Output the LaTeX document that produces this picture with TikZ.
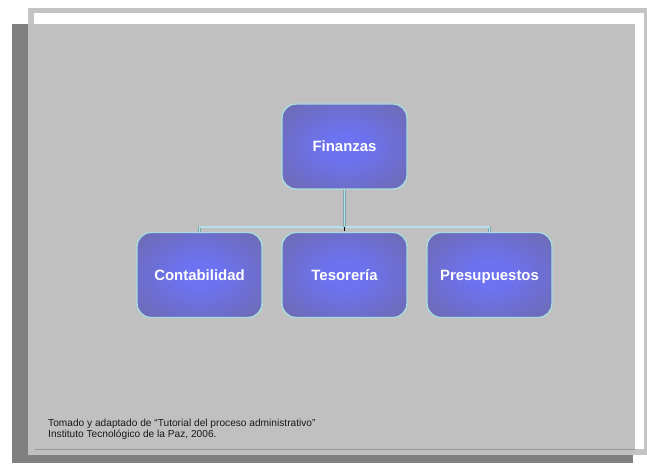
\documentclass[tikz,border=0pt]{standalone}
\usepackage{fontspec}
\setmainfont{Liberation Sans}
\definecolor{shadowgray}{HTML}{808080}
\definecolor{framegray}{HTML}{C3C3C3}
\definecolor{panelgray}{HTML}{C0C0C0}
\definecolor{rulegray}{HTML}{999999}
\definecolor{boxcenter}{HTML}{6C72F0}
\definecolor{boxedge}{HTML}{6E6AAA}
\definecolor{boxrim}{HTML}{A8DCE0}
\definecolor{linkfill}{HTML}{B4E2EA}
\definecolor{linkrim}{HTML}{7FA6AE}
\pgfdeclareradialshading{unitshade}{\pgfpoint{0bp}{0bp}}{%
  color(0bp)=(boxcenter); color(8bp)=(boxcenter); color(38bp)=(boxedge); color(70bp)=(boxedge)}
\tikzset{
  unitbox/.style={draw=boxrim, line width=1.4bp, rounded corners=14bp,
    minimum width=125bp, minimum height=85bp, shading=unitshade,
    text height=11bp, text depth=0bp,
    text=white, font=\bfseries\fontsize{15}{18}\selectfont},
  linkline/.style={draw=linkrim, double=linkfill, double distance=1.1bp, line width=0.5bp},
  sourcenote/.style={anchor=north west, inner sep=0pt, align=left,
    font=\fontsize{10.2}{11}\selectfont, text=black!90}
}
\begin{document}
\begin{tikzpicture}[x=1bp,y=-1bp]
\useasboundingbox (0,0) rectangle (647,466);
% slide frame
\fill[shadowgray] (12,24) rectangle (633,463);
\fill[framegray] (28,8) rectangle (647,455);
\fill[white] (34,13) rectangle (644,449);
\fill[panelgray] (28,24) rectangle (635,455);
\draw[rulegray, line width=1bp] (35,449) -- (635,449);
% chart
\node[unitbox] (fin) at (344.5,146.5) {Finanzas};
\node[unitbox] (cont) at (199.5,275) {Contabilidad};
\node[unitbox] (teso) at (344.5,275) {Tesorería};
\node[unitbox] (pres) at (489.5,275) {Presupuestos};
\coordinate (bus) at (344.5,227);
\draw[linkline] (cont.north) |- (bus) -| (pres.north);
\draw[linkline] (fin.south) -- (bus);
\fill[black] ([xshift=-0.9bp]bus) rectangle ([xshift=0.9bp,yshift=-4bp]bus);
% source
\node[sourcenote] (src) at (48,419) {Tomado y adaptado de “Tutorial del proceso administrativo”\\Instituto Tecnológico de la Paz, 2006.};
\end{tikzpicture}
\end{document}
